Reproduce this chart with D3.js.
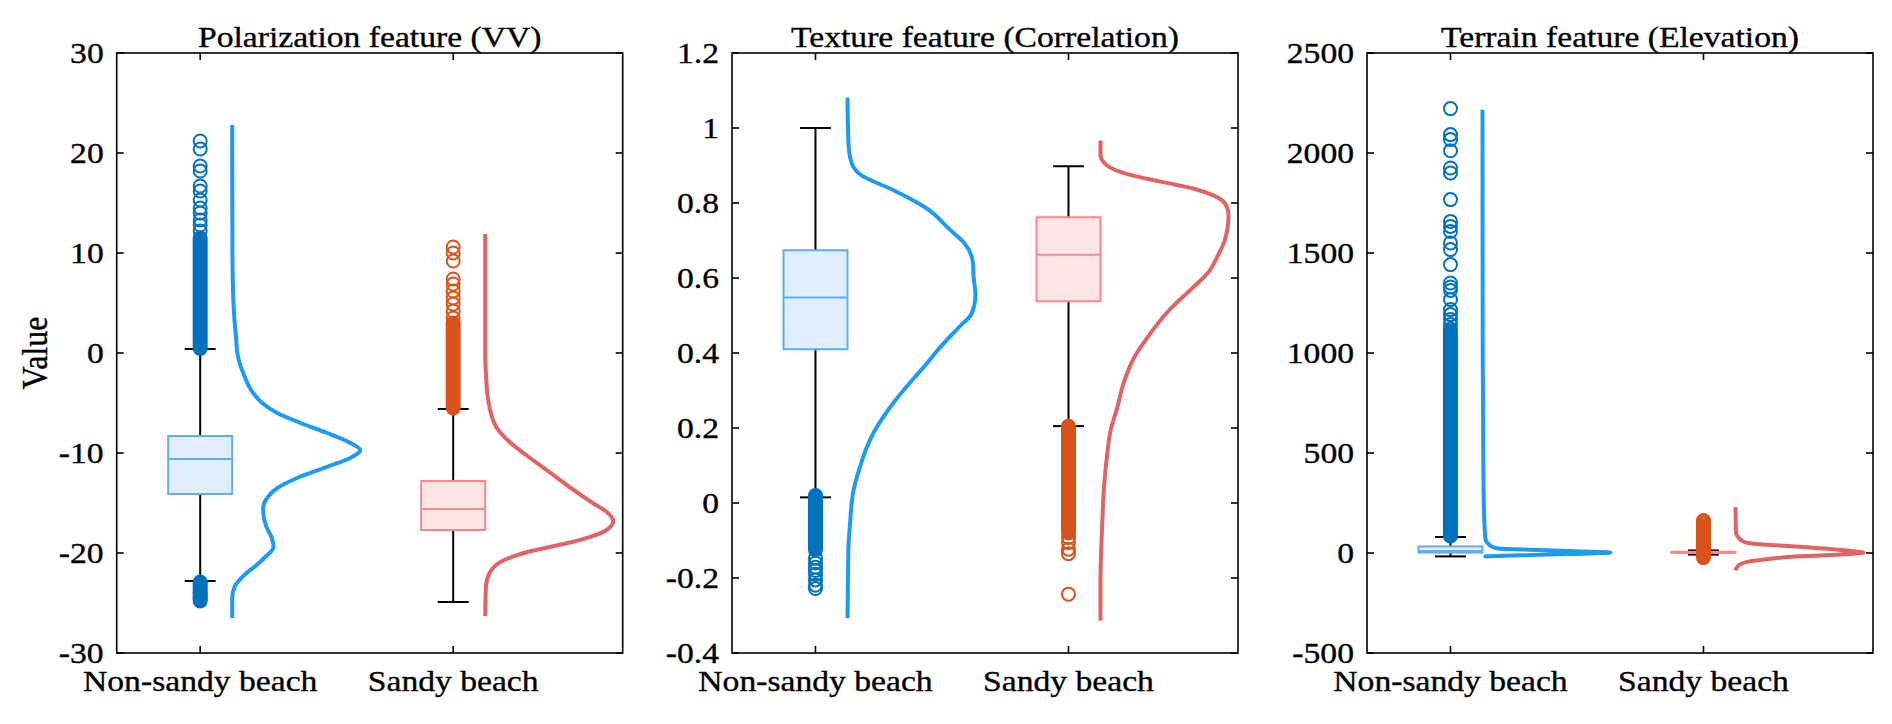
<!DOCTYPE html>
<html>
<head>
<meta charset="utf-8">
<script src="https://cdn.jsdelivr.net/npm/d3@7/dist/d3.min.js"></script>
<style>
  html, body { margin: 0; padding: 0; background: #fff; }
  svg text { font-family: 'Liberation Serif', 'Times New Roman', serif; fill: #000; stroke: #000; stroke-width: 0.35px; }
</style>
</head>
<body>
<svg id="chart" width="1892" height="724"></svg>
<script>
// ---------------- DATA ----------------
const categories = ["Non-sandy beach", "Sandy beach"];
const panelTitles = ["Polarization feature (VV)", "Texture feature (Correlation)", "Terrain feature (Elevation)"];
const yLabel = "Value";

const yDomainVV = [-30, 30];
const yDomainCorr = [-0.4, 1.2];
const yDomainElev = [-500, 2500];
const yTicksVV = [-30, -20, -10, 0, 10, 20, 30];
const yTicksCorr = [-0.4, -0.2, 0, 0.2, 0.4, 0.6, 0.8, 1, 1.2];
const yTicksElev = [-500, 0, 500, 1000, 1500, 2000, 2500];

// box stats: [lower whisker, q1, median, q3, upper whisker]
const boxVVNon = [-22.8, -14.1, -10.6, -8.3, 0.4];
const boxVVSandy = [-24.9, -17.7, -15.6, -12.8, -5.6];
const boxCorrNon = [0.015, 0.41, 0.548, 0.674, 1.0];
const boxCorrSandy = [0.205, 0.538, 0.662, 0.762, 0.898];
const boxElevNon = [-17, 2, 10, 33, 80];
const boxElevSandy = [-8, 0, 3, 6, 13];

// dense runs of outlier markers: [low, high]
const bandsVVNon = [[0.45, 11.5], [-24.8, -22.9]];
const bandsVVSandy = [[-5.5, 3.0]];
const bandsCorrNon = [[-0.125, 0.02]];
const bandsCorrSandy = [[-0.08, 0.205]];
const bandsElevNon = [[85, 1110]];
const bandsElevSandy = [[-23, 135]];

// individual outliers
const outVVNon = [12.2, 12.8, 13.3, 14.0, 14.5, 15.3, 16.2, 16.7, 18.2, 18.7, 20.4, 21.2, -24.0, -24.5];
const outVVSandy = [3.5, 4.2, 4.9, 5.5, 6.2, 6.9, 7.4, 9.2, 10.0, 10.6];
const outCorrNon = [-0.147, -0.16, -0.171, -0.18, -0.19, -0.205, -0.219, -0.228];
const outCorrSandy = [-0.092, -0.105, -0.123, -0.135, -0.243];
const outElevNon = [1120, 1142, 1167, 1192, 1217, 1267, 1313, 1330, 1350, 1442, 1517, 1550, 1608, 1633, 1658, 1767, 1900, 1925, 2011, 2067, 2092, 2222];
const outElevSandy = [145, 155, 162];

// half-violin density profiles: [value, relative density]
const densVVNon = [[22.8,0],[10,0.002],[5,0.01],[3.3,0.018],[1.6,0.03],[0,0.04],[-2,0.086],[-4,0.164],[-5,0.234],[-6,0.352],[-7,0.534],[-8,0.742],[-9,0.924],[-9.7,1.0],[-10.5,0.922],[-11.5,0.716],[-12.5,0.508],[-13.5,0.352],[-14.5,0.273],[-15.5,0.242],[-16.5,0.248],[-17.5,0.271],[-18.5,0.31],[-19.4,0.323],[-20.5,0.25],[-21.1,0.2],[-22.1,0.104],[-23.4,0.018],[-24.5,0],[-26.5,0]];
const densVVSandy = [[11.9,0],[-0.2,0],[-2.5,0.008],[-4.6,0.022],[-7.4,0.086],[-9.0,0.2],[-10.3,0.33],[-11.8,0.49],[-13.6,0.68],[-15.0,0.84],[-15.9,0.95],[-16.8,1.0],[-17.8,0.935],[-18.9,0.68],[-19.8,0.36],[-20.8,0.134],[-21.9,0.038],[-23.3,0.006],[-26.3,0]];
const densCorrNon = [[1.081,0],[0.957,0.008],[0.905,0.034],[0.876,0.1],[0.834,0.36],[0.786,0.617],[0.729,0.8],[0.69,0.92],[0.64,0.98],[0.603,0.985],[0.554,1.0],[0.505,0.97],[0.472,0.88],[0.406,0.7],[0.372,0.62],[0.345,0.55],[0.272,0.37],[0.185,0.2],[0.148,0.15],[0.099,0.1],[0.034,0.047],[-0.074,0.016],[-0.109,0.008],[-0.197,0.004],[-0.307,0]];
const densCorrSandy = [[0.967,0],[0.929,0],[0.9,0.052],[0.877,0.21],[0.857,0.47],[0.838,0.73],[0.819,0.89],[0.795,0.98],[0.767,1.0],[0.7,0.97],[0.662,0.92],[0.614,0.84],[0.577,0.73],[0.51,0.525],[0.443,0.37],[0.386,0.26],[0.319,0.18],[0.253,0.13],[0.195,0.08],[0.129,0.052],[0.034,0.026],[-0.062,0.013],[-0.205,0],[-0.314,0]];
const densElevNon = [[2216,0],[1000,0.002],[500,0.006],[200,0.012],[133,0.016],[67,0.024],[45,0.047],[33,0.07],[22,0.125],[15,0.445],[10,0.68],[6,0.86],[3,1.0],[0,0.95],[-5,0.66],[-10,0.39],[-14,0.17],[-17,0.01]];
const densElevSandy = [[230,0],[100,0.004],[83,0.016],[60,0.055],[50,0.1],[40,0.27],[33,0.47],[20,0.74],[8,0.94],[2,1.0],[-3,0.94],[-10,0.74],[-18,0.47],[-30,0.26],[-43,0.1],[-55,0.04],[-68,0.016],[-87,0]];

// ---------------- STYLE / LAYOUT ----------------
const colors = {
  nonBoxStroke: "#62ADF0", nonBoxFill: "#DFEEFD",
  sandyBoxStroke: "#F28A8C", sandyBoxFill: "#FDE5E6",
  nonOut: "#0072BD", sandyOut: "#D95319",
  nonDens: "#1E9BF0", sandyDens: "#E06466"
};
const plotTop = 53, plotBottom = 653, panelW = 506;
const panelLefts = [116.7, 732, 1367];
const xDomain = [0.67, 2.67];
const boxHalf = 0.1265, capHalf = 0.061, densMax = 0.506;
const markerR = 6.5;
const fontSize = 29.5, hStretch = 1.14;

const panels = [
  { title: panelTitles[0], yDomain: yDomainVV, yTicks: yTicksVV,
    groups: [
      { box: boxVVNon, bands: bandsVVNon, outs: outVVNon, dens: densVVNon },
      { box: boxVVSandy, bands: bandsVVSandy, outs: outVVSandy, dens: densVVSandy } ] },
  { title: panelTitles[1], yDomain: yDomainCorr, yTicks: yTicksCorr,
    groups: [
      { box: boxCorrNon, bands: bandsCorrNon, outs: outCorrNon, dens: densCorrNon },
      { box: boxCorrSandy, bands: bandsCorrSandy, outs: outCorrSandy, dens: densCorrSandy } ] },
  { title: panelTitles[2], yDomain: yDomainElev, yTicks: yTicksElev,
    groups: [
      { box: boxElevNon, bands: bandsElevNon, outs: outElevNon, dens: densElevNon },
      { box: boxElevSandy, bands: bandsElevSandy, outs: outElevSandy, dens: densElevSandy } ] }
];
const groupStyle = [
  { boxStroke: colors.nonBoxStroke, boxFill: colors.nonBoxFill, out: colors.nonOut, dens: colors.nonDens },
  { boxStroke: colors.sandyBoxStroke, boxFill: colors.sandyBoxFill, out: colors.sandyOut, dens: colors.sandyDens }
];

const svg = d3.select("#chart");

function sText(g, x, y, str, anchor, size) {
  return g.append("text")
    .attr("transform", `translate(${x},${y}) scale(${hStretch},1)`)
    .attr("text-anchor", anchor)
    .style("font-size", size + "px")
    .text(str);
}

panels.forEach((p, pi) => {
  const left = panelLefts[pi];
  const x = d3.scaleLinear().domain(xDomain).range([left, left + panelW]);
  const y = d3.scaleLinear().domain(p.yDomain).range([plotBottom, plotTop]);
  const g = svg.append("g");

  p.groups.forEach((grp, gi) => {
    const c = gi + 1, st = groupStyle[gi];
    const [wlo, q1, med, q3, whi] = grp.box;
    g.append("line").attr("x1", x(c)).attr("x2", x(c)).attr("y1", y(q3)).attr("y2", y(whi))
      .attr("stroke", "#000").attr("stroke-width", 2);
    g.append("line").attr("x1", x(c)).attr("x2", x(c)).attr("y1", y(q1)).attr("y2", y(wlo))
      .attr("stroke", "#000").attr("stroke-width", 2);
    [wlo, whi].forEach(v => {
      g.append("line").attr("x1", x(c - capHalf)).attr("x2", x(c + capHalf)).attr("y1", y(v)).attr("y2", y(v))
        .attr("stroke", "#000").attr("stroke-width", 2);
    });
    g.append("rect").attr("x", x(c - boxHalf)).attr("width", x(c + boxHalf) - x(c - boxHalf))
      .attr("y", y(q3)).attr("height", Math.max(0.5, y(q1) - y(q3)))
      .attr("fill", st.boxFill).attr("stroke", st.boxStroke).attr("stroke-width", 2);
    g.append("line").attr("x1", x(c - boxHalf)).attr("x2", x(c + boxHalf)).attr("y1", y(med)).attr("y2", y(med))
      .attr("stroke", st.boxStroke).attr("stroke-width", 2);

    grp.bands.forEach(([lo, hi]) => {
      const ro = markerR + 1;
      g.append("rect").attr("x", x(c) - ro).attr("width", 2 * ro)
        .attr("y", y(hi) - ro).attr("height", y(lo) - y(hi) + 2 * ro)
        .attr("rx", ro).attr("ry", ro).attr("fill", st.out);
    });
    g.selectAll(null).data(grp.outs).enter().append("circle")
      .attr("cx", x(c)).attr("cy", d => y(d)).attr("r", markerR)
      .attr("fill", "none").attr("stroke", st.out).attr("stroke-width", 2);

    const base = c + boxHalf;
    const line = d3.line()
      .x(d => x(base + densMax * d[1]))
      .y(d => y(d[0]))
      .curve(d3.curveMonotoneY);
    g.append("path").datum(grp.dens).attr("d", line)
      .attr("fill", "none").attr("stroke", st.dens).attr("stroke-width", 4)
      .attr("stroke-linejoin", "round");
  });

  g.append("rect").attr("x", left).attr("y", plotTop).attr("width", panelW).attr("height", plotBottom - plotTop)
    .attr("fill", "none").attr("stroke", "#000").attr("stroke-width", 1.6);

  const tl = 7;
  p.yTicks.forEach(t => {
    g.append("line").attr("x1", left).attr("x2", left + tl).attr("y1", y(t)).attr("y2", y(t))
      .attr("stroke", "#000").attr("stroke-width", 1.6);
    g.append("line").attr("x1", left + panelW).attr("x2", left + panelW - tl).attr("y1", y(t)).attr("y2", y(t))
      .attr("stroke", "#000").attr("stroke-width", 1.6);
    sText(g, left - 13, y(t) + 10, String(t), "end", fontSize);
  });
  categories.forEach((cat, ci) => {
    const cx = x(ci + 1);
    g.append("line").attr("x1", cx).attr("x2", cx).attr("y1", plotBottom).attr("y2", plotBottom - tl)
      .attr("stroke", "#000").attr("stroke-width", 1.6);
    g.append("line").attr("x1", cx).attr("x2", cx).attr("y1", plotTop).attr("y2", plotTop + tl)
      .attr("stroke", "#000").attr("stroke-width", 1.6);
    sText(g, cx, 691, cat, "middle", fontSize);
  });

  sText(g, left + panelW / 2, 47, p.title, "middle", fontSize);
});

svg.append("text")
  .attr("transform", `translate(47,353) rotate(-90) scale(1,${hStretch})`)
  .attr("text-anchor", "middle")
  .style("font-size", "32px")
  .text(yLabel);
</script>
</body>
</html>
